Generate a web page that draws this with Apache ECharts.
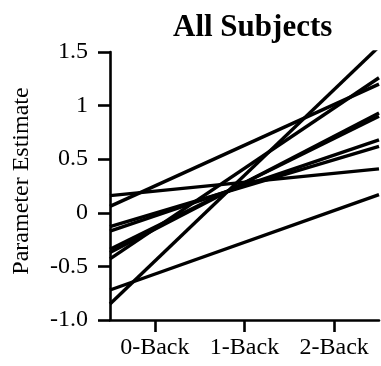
<!DOCTYPE html>
<html>
<head>
<meta charset="utf-8">
<script src="https://cdn.jsdelivr.net/npm/echarts@6/dist/echarts.min.js"></script>
<style>
html,body{margin:0;padding:0;background:#fff;}
#c{width:381px;height:366px;}
</style>
</head>
<body>
<div id="c"></div>
<script>
// Categories on the x axis
var categories = ['0-Back', '1-Back', '2-Back'];
// Fitted line for each subject: value at left edge of plot and at right edge of plot
var leftEnd  = [0.16, 0.06, -0.13, -0.17, -0.34, -0.37, -0.43, -0.72, -0.85];
var rightEnd = [0.41, 1.20,  0.62,  0.68,  0.90,  0.93,  1.26,  0.17,  1.55];
// Edge positions in category units (band edges)
var edgeLeft = -0.5, edgeRight = 2.5;
// Y tick labels
var yTickValues = [-1, -0.5, 0, 0.5, 1, 1.5];
var yTickLabels = ['-1.0', '-0.5', '0', '0.5', '1', '1.5'];

var serif = '"Liberation Serif", "DejaVu Serif", serif';

var series = leftEnd.map(function (l, i) {
  return {
    type: 'line',
    xAxisIndex: 1,
    yAxisIndex: 0,
    data: [[edgeLeft, l], [edgeRight, rightEnd[i]]],
    showSymbol: false,
    symbol: 'none',
    clip: true,
    lineStyle: { color: '#000', width: 3.4 },
    silent: true
  };
});

var chart = echarts.init(document.getElementById('c'), null, { renderer: 'canvas' });
chart.setOption({
  animation: false,
  backgroundColor: '#fff',
  title: {
    text: 'All Subjects',
    left: 168,
    top: 7,
    textStyle: { fontFamily: serif, fontWeight: 'bold', fontSize: 31, color: '#000' }
  },
  grid: { left: 110, right: 2, top: 52, bottom: 46, containLabel: false },
  xAxis: [
    {
      type: 'category',
      data: categories,
      boundaryGap: true,
      axisLine: { show: true, onZero: false, lineStyle: { color: '#000', width: 2.6 } },
      axisTick: { show: true, alignWithLabel: true, interval: 0, inside: false, length: 12, lineStyle: { color: '#000', width: 2.6 } },
      axisLabel: { interval: 0, hideOverlap: false, fontFamily: serif, fontSize: 24, color: '#000', margin: 16 },
      splitLine: { show: false }
    },
    {
      type: 'value',
      min: edgeLeft,
      max: edgeRight,
      show: false,
      position: 'bottom',
      axisLine: { onZero: false }
    }
  ],
  yAxis: {
    type: 'value',
    min: -1,
    max: 1.5,
    interval: 0.5,
    name: 'Parameter Estimate',
    nameLocation: 'middle',
    nameRotate: 90,
    nameGap: 76,
    nameTextStyle: { fontFamily: serif, fontSize: 24, color: '#000', padding: [0, 0, 0, 10] },
    axisLine: { show: true, onZero: false, lineStyle: { color: '#000', width: 2.6 } },
    axisTick: { show: true, inside: false, length: 12, lineStyle: { color: '#000', width: 2.6 } },
    axisLabel: {
      fontFamily: serif, fontSize: 24, color: '#000', margin: 22,
      formatter: function (v) {
        for (var i = 0; i < yTickValues.length; i++) {
          if (Math.abs(yTickValues[i] - v) < 1e-9) return yTickLabels[i];
        }
        return '';
      }
    },
    splitLine: { show: false }
  },
  series: series
});
</script>
</body>
</html>
